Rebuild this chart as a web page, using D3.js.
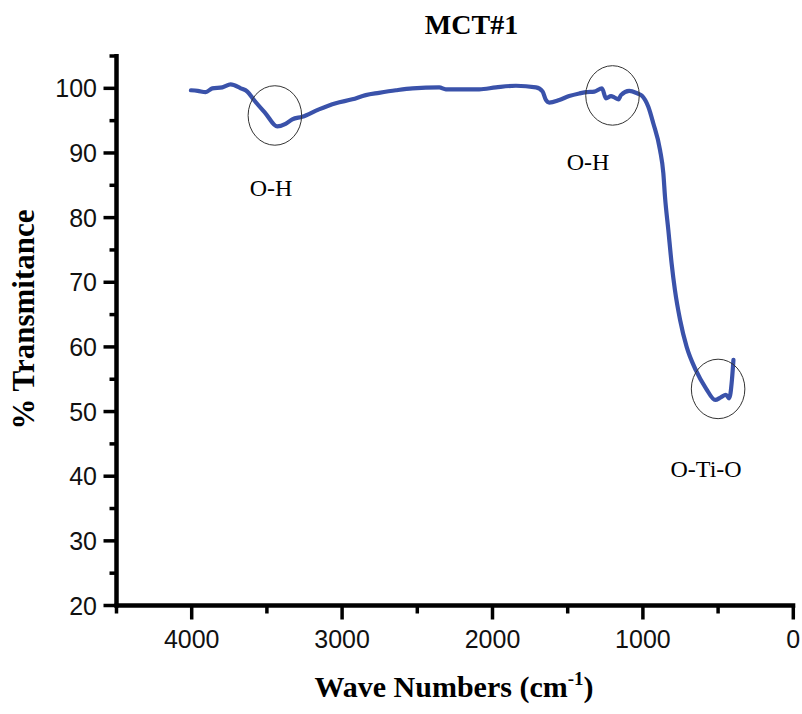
<!DOCTYPE html>
<html>
<head>
<meta charset="utf-8">
<script src="https://cdn.jsdelivr.net/npm/d3@7"></script>
<style>
  html, body { margin: 0; padding: 0; background: #fff; }
  svg { display: block; }
</style>
</head>
<body>
<svg id="chart" width="802" height="714"></svg>
<script>
// FTIR spectrum of sample MCT#1
const wavenumbers = [4005, 3960, 3907, 3863, 3796, 3741, 3674, 3630, 3586, 3508, 3431, 3376, 3331, 3265,
  3154, 3042, 2932, 2843, 2755, 2642, 2532, 2354, 2310, 2088, 1977, 1844, 1711, 1667, 1645, 1623, 1556,
  1490, 1423, 1379, 1323, 1272, 1246, 1212, 1190, 1162, 1146, 1091, 1035, 1008, 964, 931, 886, 864, 853,
  831, 809, 787, 753, 709, 648, 581, 519, 482, 448, 426, 408, 398];
const transmittance = [99.7, 99.6, 99.4, 100.0, 100.15, 100.6, 100.0, 99.5, 98.2, 96.1, 94.1, 94.5, 95.2, 95.6,
  96.75, 97.7, 98.3, 98.95, 99.3, 99.7, 100.0, 100.15, 99.85, 99.85, 100.15, 100.4, 100.15, 99.5, 98.2, 97.8, 98.2,
  98.8, 99.2, 99.4, 99.5, 100.0, 98.45, 98.8, 98.6, 98.3, 98.95, 99.6, 99.2, 98.9, 97.15, 94.6, 90.45, 86.85, 83.2,
  78.1, 72.9, 68.8, 64.2, 60.0, 56.4, 53.6, 51.8, 52.2, 52.6, 52.05, 54.9, 58.0];

// Band assignments: label, circled band centre (cm-1, %T), label anchor (cm-1, %T)
const bandNames = ["O-H", "O-H", "O-Ti-O"];
const bandCentres = [[3447, 95.8], [1202, 98.9], [500, 53.5]];
const bandLabelPos = [[3473, 83.3], [1365, 87.4], [580, 39.9]];

const xTicks = [4000, 3000, 2000, 1000, 0];
const yTicks = [20, 30, 40, 50, 60, 70, 80, 90, 100];

const title = "MCT#1";
const yTitle = "% Transmitance";

const svg = d3.select("#chart");

const x = d3.scaleLinear().domain([4500, 0]).range([116.5, 793.3]);
const y = d3.scaleLinear().domain([20, 105]).range([605.5, 56]);

const axisColor = "#000";

// Minor ticks every 500 / every 5
const xMinor = d3.range(4500, -1, -500).filter(v => !xTicks.includes(v));
const yMinor = d3.range(25, 106, 10);

const g = svg.append("g");

// X axis
const xAxisG = g.append("g").attr("transform", `translate(0,${y(20)})`);
xAxisG.append("line")
  .attr("x1", x(4500) - 2).attr("x2", x(0) + 2)
  .attr("stroke", axisColor).attr("stroke-width", 4.5);
xAxisG.selectAll(".maj").data(xTicks).join("line")
  .attr("x1", d => x(d)).attr("x2", d => x(d))
  .attr("y1", 0).attr("y2", 14)
  .attr("stroke", axisColor).attr("stroke-width", 3.5);
xAxisG.selectAll(".min").data(xMinor).join("line")
  .attr("x1", d => x(d)).attr("x2", d => x(d))
  .attr("y1", 0).attr("y2", 8)
  .attr("stroke", axisColor).attr("stroke-width", 3.5);
xAxisG.selectAll("text").data(xTicks).join("text")
  .attr("x", d => x(d)).attr("y", 42.5)
  .attr("text-anchor", "middle")
  .attr("font-family", "'Liberation Sans', Arial, sans-serif")
  .attr("font-size", 25)
  .attr("fill", "#111")
  .text(d => d);

// Y axis
const yAxisG = g.append("g").attr("transform", `translate(${x(4500)},0)`);
yAxisG.append("line")
  .attr("y1", y(105) - 2).attr("y2", y(20) + 2)
  .attr("stroke", axisColor).attr("stroke-width", 4.5);
yAxisG.selectAll(".maj").data(yTicks).join("line")
  .attr("y1", d => y(d)).attr("y2", d => y(d))
  .attr("x1", 0).attr("x2", -13)
  .attr("stroke", axisColor).attr("stroke-width", 3.5);
yAxisG.selectAll(".min").data(yMinor).join("line")
  .attr("y1", d => y(d)).attr("y2", d => y(d))
  .attr("x1", 0).attr("x2", -7)
  .attr("stroke", axisColor).attr("stroke-width", 3.5);
yAxisG.selectAll("text").data(yTicks).join("text")
  .attr("x", -19.5).attr("y", d => y(d) + 9)
  .attr("text-anchor", "end")
  .attr("font-family", "'Liberation Sans', Arial, sans-serif")
  .attr("font-size", 25)
  .attr("fill", "#111")
  .text(d => d);

// Spectrum
const pts = wavenumbers.map((w, i) => [w, transmittance[i]]);
svg.append("path")
  .datum(pts)
  .attr("fill", "none")
  .attr("stroke", "#3a52aa")
  .attr("stroke-width", 4.2)
  .attr("stroke-linejoin", "round")
  .attr("stroke-linecap", "round")
  .attr("d", d3.line().curve(d3.curveMonotoneX).x(d => x(d[0])).y(d => y(d[1])));

// Band circles
const rxUnits = 178, ryUnits = 4.6;
svg.selectAll(".band").data(bandCentres).join("ellipse")
  .attr("cx", d => x(d[0])).attr("cy", d => y(d[1]))
  .attr("rx", d => Math.abs(x(d[0] + rxUnits) - x(d[0])))
  .attr("ry", d => Math.abs(y(d[1] + ryUnits) - y(d[1])))
  .attr("fill", "none").attr("stroke", "#333").attr("stroke-width", 1);

// Band labels
svg.selectAll(".bandLabel").data(bandNames).join("text")
  .attr("x", (d, i) => x(bandLabelPos[i][0]))
  .attr("y", (d, i) => y(bandLabelPos[i][1]))
  .attr("text-anchor", "middle")
  .attr("font-family", "'Liberation Serif', 'Times New Roman', serif")
  .attr("font-size", 24)
  .attr("fill", "#000")
  .text(d => d);

// Titles
svg.append("text")
  .attr("x", 471.5).attr("y", 34)
  .attr("text-anchor", "middle")
  .attr("font-family", "'Liberation Serif', 'Times New Roman', serif")
  .attr("font-weight", "bold").attr("font-size", 28)
  .text(title);

svg.append("text")
  .attr("transform", "translate(34,319.5) rotate(-90)")
  .attr("text-anchor", "middle")
  .attr("font-family", "'Liberation Serif', 'Times New Roman', serif")
  .attr("font-weight", "bold").attr("font-size", 31)
  .text(yTitle);

const xt = svg.append("text")
  .attr("x", 454).attr("y", 697)
  .attr("text-anchor", "middle")
  .attr("font-family", "'Liberation Serif', 'Times New Roman', serif")
  .attr("font-weight", "bold").attr("font-size", 30);
xt.append("tspan").text("Wave Numbers (cm");
xt.append("tspan").attr("font-size", 19).attr("dy", -12).text("-1");
xt.append("tspan").attr("dy", 12).text(")");
</script>
</body>
</html>
